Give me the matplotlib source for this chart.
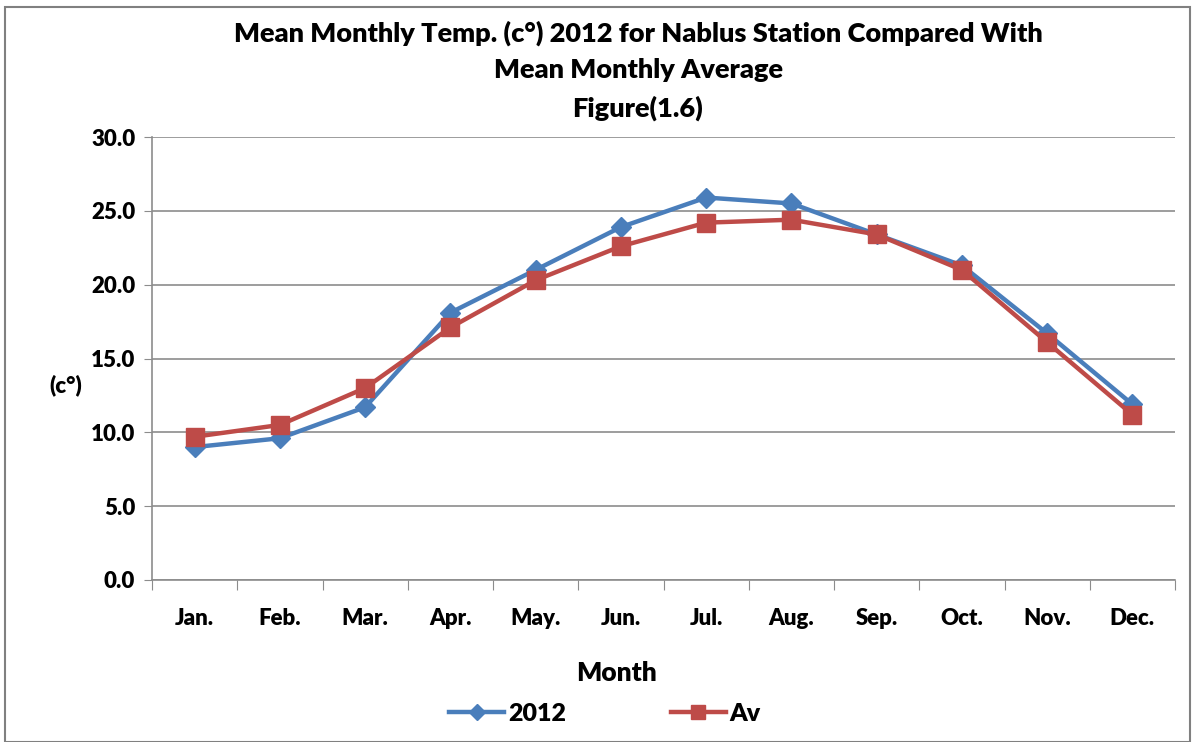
import matplotlib.pyplot as plt
import matplotlib.patches as mpatches
import numpy as np

plt.rcParams['font.family'] = ['Lato', 'DejaVu Sans']

# Data
months = ['Jan.', 'Feb.', 'Mar.', 'Apr.', 'May.', 'Jun.',
          'Jul.', 'Aug.', 'Sep.', 'Oct.', 'Nov.', 'Dec.']
temp_2012 = [9.0, 9.6, 11.7, 18.1, 21.0, 23.9, 25.9, 25.5, 23.4, 21.3, 16.7, 11.9]
temp_av = [9.7, 10.5, 13.0, 17.1, 20.3, 22.6, 24.2, 24.4, 23.4, 21.0, 16.1, 11.2]
yticks = [0, 5, 10, 15, 20, 25, 30]

blue = '#4a7ebb'
red = '#be4b48'
grid_col = '#8c8c8c'

fig = plt.figure(figsize=(11.92, 7.42), dpi=100)
ax = fig.add_axes([152 / 1192, 1 - 580 / 742, (1175 - 152) / 1192, (580 - 137) / 742])

x = np.arange(len(months))
ax.plot(x, temp_2012, color=blue, lw=3.2, marker='D', markersize=10,
        markerfacecolor=blue, markeredgecolor=blue, label='2012', zorder=3)
ax.plot(x, temp_av, color=red, lw=3.2, marker='s', markersize=13,
        markerfacecolor=red, markeredgecolor=red, label='Av', zorder=4)

ax.set_xlim(-0.5, len(months) - 0.5)
ax.set_ylim(0, 30)
ax.set_yticks(yticks)
ax.set_yticklabels([f'{v:.1f}' for v in yticks], fontsize=16, fontweight='heavy')
ax.yaxis.grid(True, color=grid_col, lw=1.2)
ax.set_axisbelow(True)

# category labels between boundary ticks
ax.set_xticks(np.arange(-0.5, len(months), 1.0))
ax.set_xticklabels([])
ax.set_xticks(x, minor=True)
ax.set_xticklabels(months, minor=True, fontsize=16, fontweight='heavy')
ax.tick_params(axis='x', which='minor', length=0, pad=20)
ax.tick_params(axis='x', which='major', length=7, color=grid_col)
ax.tick_params(axis='y', length=6, color=grid_col, pad=6)

for s in ['top', 'right']:
    ax.spines[s].set_visible(False)
for s in ['left', 'bottom']:
    ax.spines[s].set_color(grid_col)
    ax.spines[s].set_linewidth(1.2)

ax.set_xlabel('Month', fontsize=19, fontweight='heavy')
ax.xaxis.set_label_coords((617 - 152) / (1175 - 152), -(673 - 580) / (580 - 137))
ax.xaxis.label.set_va('center')
ax.set_ylabel('(c°)', fontsize=16, fontweight='heavy', rotation=0, va='center', ha='center')
ax.yaxis.set_label_coords(-(152 - 66) / (1175 - 152), (580 - 385) / (580 - 137))

fig.text(638 / 1192, 1 - 21 / 742, 'Mean Monthly Temp. (c°) 2012 for Nablus Station Compared With\n'
         'Mean Monthly Average\nFigure(1.6)', ha='center', va='top',
         fontsize=19.5, fontweight='heavy', linespacing=1.6)

ax.legend(loc='center', bbox_to_anchor=((605 - 152) / (1175 - 152), -(714 - 580) / (580 - 137)),
          ncol=2, frameon=False, prop={'weight': 'heavy', 'size': 18}, handlelength=2.2,
          markerscale=0.8, columnspacing=4.2, handletextpad=0.15)

fig.patches.append(mpatches.Rectangle((0.004, 0.0), 0.994, 0.99, transform=fig.transFigure,
                                      fill=False, edgecolor='#808080', lw=1.5))

fig.savefig('out.png', dpi=100)
